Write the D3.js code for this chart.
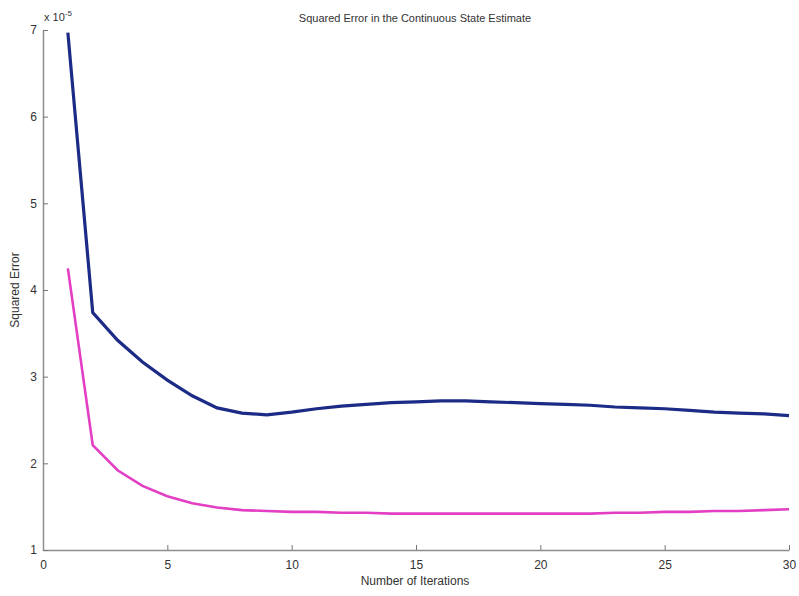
<!DOCTYPE html>
<html>
<head>
<meta charset="utf-8">
<script src="https://cdn.jsdelivr.net/npm/d3@7"></script>
<style>
  body { margin: 0; background: #fff; }
  svg { font-family: "Liberation Sans", Arial, sans-serif; }
</style>
</head>
<body>
<svg id="chart" width="799" height="596"></svg>
<script>
// iterations 1..30
var iterations = d3.range(1, 31);

// squared error, units of 1e-5
var blueErr = [6.97, 3.74, 3.42, 3.17, 2.96, 2.78, 2.64, 2.58, 2.56, 2.59,
               2.63, 2.66, 2.68, 2.70, 2.71, 2.72, 2.72, 2.71, 2.70, 2.69,
               2.68, 2.67, 2.65, 2.64, 2.63, 2.61, 2.59, 2.58, 2.57, 2.55];
var pinkErr = [4.25, 2.21, 1.92, 1.74, 1.62, 1.54, 1.49, 1.46, 1.45, 1.44,
               1.44, 1.43, 1.43, 1.42, 1.42, 1.42, 1.42, 1.42, 1.42, 1.42,
               1.42, 1.42, 1.43, 1.43, 1.44, 1.44, 1.45, 1.45, 1.46, 1.47];

var xTicks = [0, 5, 10, 15, 20, 25, 30];
var yTicks = [1, 2, 3, 4, 5, 6, 7];

var svg = d3.select('#chart');
// plot box edges (note: "top" is reserved on window, so use other names)
var plotLeft = 43, plotRight = 789, plotTop = 30, plotBottom = 550;

var x = d3.scaleLinear().domain([0, 30]).range([plotLeft, plotRight]);
var y = d3.scaleLinear().domain([1, 7]).range([plotBottom, plotTop]);

// axes - ticks point inward like matlab
var xAxis = svg.append('g')
    .attr('transform', 'translate(0,' + plotBottom + ')')
    .call(d3.axisBottom(x).tickValues(xTicks).tickFormat(d3.format('d'))
        .tickSizeInner(-5).tickSizeOuter(0).tickPadding(10));
var yAxis = svg.append('g')
    .attr('transform', 'translate(' + plotLeft + ',0)')
    .call(d3.axisLeft(y).tickValues(yTicks).tickFormat(d3.format('d'))
        .tickSizeInner(-5).tickSizeOuter(0).tickPadding(6));

[xAxis, yAxis].forEach(function(g) {
    g.select('.domain').attr('stroke', '#8a8f8a').attr('stroke-width', 1.5);
    g.selectAll('.tick line').attr('stroke', '#777');
    g.selectAll('.tick text').attr('fill', '#333').style('font-size', '12px');
});

// exponent label
var expo = svg.append('text')
    .attr('x', 44).attr('y', 21)
    .attr('fill', '#333')
    .style('font-size', '11px');
expo.append('tspan').text('x 10');
expo.append('tspan').attr('dy', -5).style('font-size', '8px').text('-5');

var line = d3.line()
    .x(function(d, i) { return x(iterations[i]); })
    .y(function(d) { return y(d); })
    .curve(d3.curveLinear);

svg.append('path')
    .datum(pinkErr)
    .attr('d', line)
    .attr('fill', 'none')
    .attr('stroke', '#e23fc4')
    .attr('stroke-width', 2.6);

svg.append('path')
    .datum(blueErr)
    .attr('d', line)
    .attr('fill', 'none')
    .attr('stroke', '#1c2b86')
    .attr('stroke-width', 3.2);

// title and labels
svg.append('text')
    .attr('x', 415).attr('y', 22)
    .attr('text-anchor', 'middle')
    .attr('fill', '#333')
    .style('font-size', '11px')
    .text('Squared Error in the Continuous State Estimate');

svg.append('text')
    .attr('x', 415).attr('y', 585)
    .attr('text-anchor', 'middle')
    .attr('fill', '#333')
    .style('font-size', '12px')
    .text('Number of Iterations');

svg.append('text')
    .attr('transform', 'translate(19,290) rotate(-90)')
    .attr('text-anchor', 'middle')
    .attr('fill', '#333')
    .style('font-size', '12px')
    .text('Squared Error');
</script>
</body>
</html>
